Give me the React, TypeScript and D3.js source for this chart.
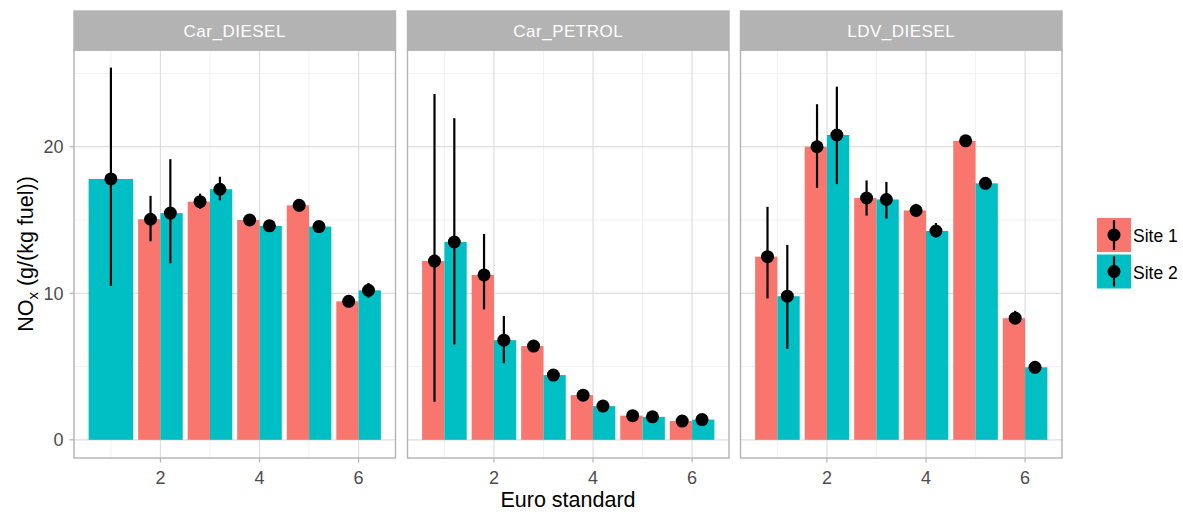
import React from "react";
import * as d3 from "d3";

const panels = ["Car_DIESEL", "Car_PETROL", "LDV_DIESEL"];
const sites = ["Site 1", "Site 2"];
const siteColors = ["#F8766D", "#00BFC4"];
const euro = [1, 2, 3, 4, 5, 6];
const xTicks = [2, 4, 6];
const yTicks = [0, 10, 20];

// values per panel, per site, per euro standard (null = missing)
const carDieselSite1 = [null, 15.05, 16.25, 15.0, 16.0, 9.45];
const carDieselSite1Lo = [null, 13.55, 15.75, 14.8, 15.8, 9.25];
const carDieselSite1Hi = [null, 16.65, 16.8, 15.2, 16.2, 9.65];
const carDieselSite2 = [17.8, 15.47, 17.1, 14.6, 14.55, 10.2];
const carDieselSite2Lo = [10.5, 12.05, 16.35, 14.4, 14.35, 9.7];
const carDieselSite2Hi = [25.4, 19.15, 17.95, 14.8, 14.75, 10.7];

const carPetrolSite1 = [12.2, 11.25, 6.4, 3.05, 1.65, 1.28];
const carPetrolSite1Lo = [2.6, 8.9, 6.0, 2.85, 1.5, 1.15];
const carPetrolSite1Hi = [23.6, 14.05, 6.8, 3.25, 1.8, 1.4];
const carPetrolSite2 = [13.5, 6.8, 4.42, 2.3, 1.57, 1.38];
const carPetrolSite2Lo = [6.5, 5.23, 4.1, 2.1, 1.42, 1.25];
const carPetrolSite2Hi = [21.95, 8.45, 4.72, 2.5, 1.72, 1.5];

const ldvDieselSite1 = [12.5, 20.0, 16.5, 15.65, 20.4, 8.3];
const ldvDieselSite1Lo = [9.65, 17.2, 15.3, 15.2, 20.2, 7.9];
const ldvDieselSite1Hi = [15.9, 22.9, 17.7, 16.1, 20.6, 8.8];
const ldvDieselSite2 = [9.8, 20.8, 16.4, 14.25, 17.5, 4.95];
const ldvDieselSite2Lo = [6.2, 17.45, 15.1, 13.8, 17.1, 4.6];
const ldvDieselSite2Hi = [13.3, 24.1, 17.6, 14.8, 17.9, 5.3];

const table = [
  [
    [carDieselSite1, carDieselSite1Lo, carDieselSite1Hi],
    [carDieselSite2, carDieselSite2Lo, carDieselSite2Hi],
  ],
  [
    [carPetrolSite1, carPetrolSite1Lo, carPetrolSite1Hi],
    [carPetrolSite2, carPetrolSite2Lo, carPetrolSite2Hi],
  ],
  [
    [ldvDieselSite1, ldvDieselSite1Lo, ldvDieselSite1Hi],
    [ldvDieselSite2, ldvDieselSite2Lo, ldvDieselSite2Hi],
  ],
];

const FONT = "'Liberation Sans', Arial, sans-serif";
const W = 1183;
const H = 514;
const panelLefts = [74, 407.5, 740.5];
const panelW = 321.5;
const stripTop = 11;
const stripBottom = 50;
const panelBottom = 458;

export default function App() {
  const y = d3.scaleLinear().domain([-1.24, 26.6]).range([panelBottom, stripBottom]);
  const grey70 = "#B3B3B3";
  const gridMajor = "#DEDEDE";
  const gridMinor = "#EDEDED";

  return (
    <svg width={W} height={H} style={{ position: "absolute", left: 0, top: 0, fontFamily: FONT }}>
      <rect width={W} height={H} fill="#fff" />
      {panels.map((name, pi) => {
        const x0 = panelLefts[pi];
        const x = d3.scaleLinear().domain([0.255, 6.745]).range([x0, x0 + panelW]);
        return (
          <g key={name}>
            {/* strip */}
            <rect x={x0} y={stripTop} width={panelW} height={stripBottom - stripTop} fill={grey70} />
            <text x={x0 + panelW / 2} y={37} textAnchor="middle" fill="#fff" fontSize={17} letterSpacing={0.5}>
              {name}
            </text>
            {/* minor grid */}
            {[5, 15, 25].map((v) => (
              <line key={"ym" + v} x1={x0} x2={x0 + panelW} y1={y(v)} y2={y(v)} stroke={gridMinor} strokeWidth={0.8} />
            ))}
            {[1, 3, 5].map((v) => (
              <line key={"xm" + v} x1={x(v)} x2={x(v)} y1={stripBottom} y2={panelBottom} stroke={gridMinor} strokeWidth={0.8} />
            ))}
            {yTicks.map((v) => (
              <line key={"yM" + v} x1={x0} x2={x0 + panelW} y1={y(v)} y2={y(v)} stroke={gridMajor} strokeWidth={1.2} />
            ))}
            {xTicks.map((v) => (
              <line key={"xM" + v} x1={x(v)} x2={x(v)} y1={stripBottom} y2={panelBottom} stroke={gridMajor} strokeWidth={1.2} />
            ))}
            {/* bars */}
            {euro.map((e, ei) => {
              const present = [0, 1].filter((si) => table[pi][si][0][ei] != null);
              return present.map((si, k) => {
                const v = table[pi][si][0][ei] as number;
                const n = present.length;
                const w = 0.9 / n;
                const left = e - 0.45 + k * w;
                return (
                  <rect
                    key={"b" + e + si}
                    x={x(left)}
                    y={y(v)}
                    width={x(left + w) - x(left)}
                    height={y(0) - y(v)}
                    fill={siteColors[si]}
                  />
                );
              });
            })}
            {/* error bars and points */}
            {euro.map((e, ei) => {
              const present = [0, 1].filter((si) => table[pi][si][0][ei] != null);
              return present.map((si, k) => {
                const [vals, lo, hi] = table[pi][si];
                const n = present.length;
                const cx = n === 1 ? x(e) : x(e - 0.2 + k * 0.4);
                return (
                  <g key={"p" + e + si}>
                    <line x1={cx} x2={cx} y1={y(lo[ei] as number)} y2={y(hi[ei] as number)} stroke="#000" strokeWidth={2.2} />
                    <circle cx={cx} cy={y(vals[ei] as number)} r={6.5} fill="#000" />
                  </g>
                );
              });
            })}
            {/* panel border */}
            <rect x={x0} y={stripBottom} width={panelW} height={panelBottom - stripBottom} fill="none" stroke={grey70} strokeWidth={1.4} />
            <rect x={x0} y={stripTop} width={panelW} height={stripBottom - stripTop} fill="none" stroke={grey70} strokeWidth={1.4} />
            {/* x ticks */}
            {xTicks.map((v) => (
              <g key={"xt" + v}>
                <line x1={x(v)} x2={x(v)} y1={panelBottom} y2={panelBottom + 4.5} stroke={grey70} strokeWidth={1.2} />
                <text x={x(v)} y={483.5} textAnchor="middle" fill="#4D4D4D" fontSize={18}>
                  {v}
                </text>
              </g>
            ))}
          </g>
        );
      })}
      {/* y axis */}
      {yTicks.map((v) => (
        <g key={"yt" + v}>
          <line x1={panelLefts[0] - 4.5} x2={panelLefts[0]} y1={y(v)} y2={y(v)} stroke={grey70} strokeWidth={1.2} />
          <text x={panelLefts[0] - 10.5} y={y(v) + 6.5} textAnchor="end" fill="#4D4D4D" fontSize={18}>
            {v}
          </text>
        </g>
      ))}
      <text transform={`translate(33,254) rotate(-90)`} textAnchor="middle" fontSize={21.5} fill="#000">
        NO<tspan fontSize={15} dy={5}>x</tspan>
        <tspan dy={-5}> (g/(kg fuel))</tspan>
      </text>
      <text x={(panelLefts[0] + panelLefts[2] + panelW) / 2} y={507} textAnchor="middle" fontSize={21.5} fill="#000">
        Euro standard
      </text>
      {/* legend */}
      {sites.map((s, i) => {
        const ky = 218 + i * 36.5;
        return (
          <g key={s}>
            <rect x={1097} y={ky} width={34} height={34} fill={siteColors[i]} />
            <line x1={1114} x2={1114} y1={ky + 2} y2={ky + 32} stroke="#000" strokeWidth={2.2} />
            <circle cx={1114} cy={ky + 17} r={6.5} fill="#000" />
            <text x={1133} y={ky + 24} fontSize={17.5} fill="#000">
              {s}
            </text>
          </g>
        );
      })}
    </svg>
  );
}
